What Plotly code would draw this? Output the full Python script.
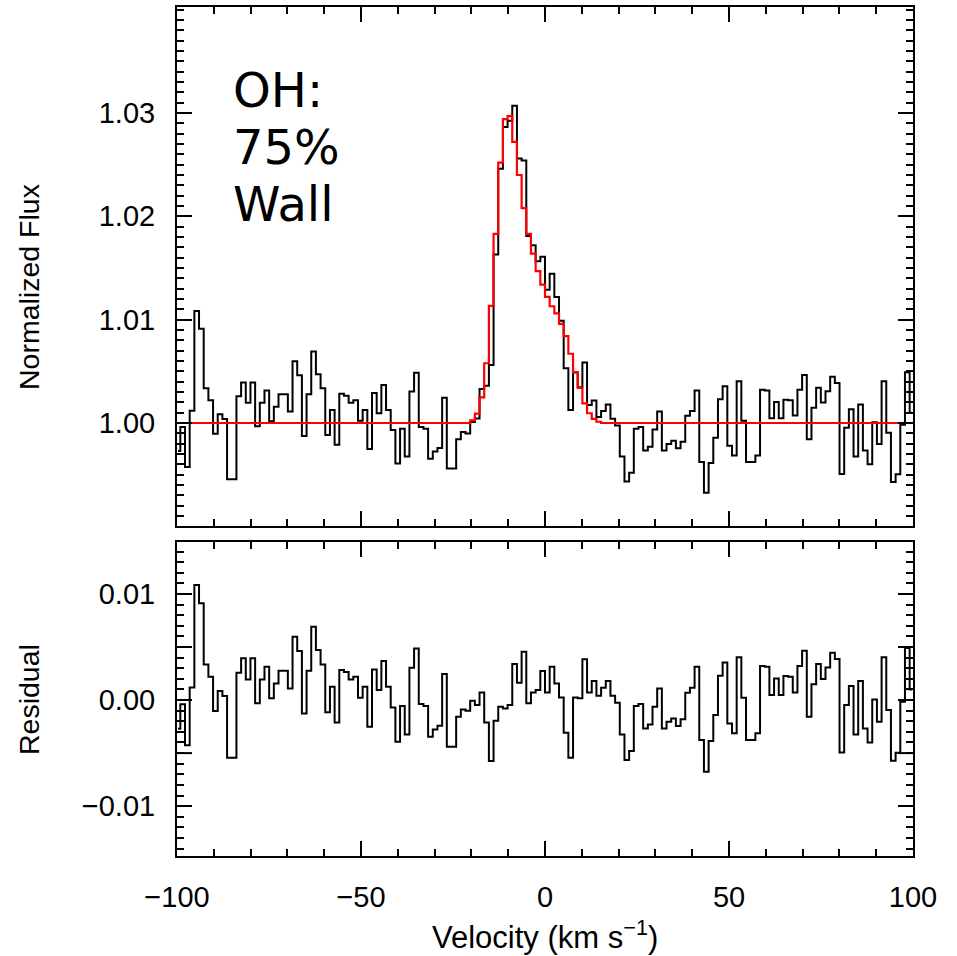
import numpy as np
import plotly.graph_objects as go

# ---- data ----
V_START = -99.73      # centre of first velocity bin (km/s)
V_STEP = 1.2704       # bin width (km/s)

flux = [
    0.99730, 0.99960, 0.99575, 1.00119, 1.01085, 1.00912, 1.00336, 1.00220, 0.99896, 1.00085,
    1.00038, 0.99456, 0.99456, 1.00258, 1.00393, 1.00195, 1.00393, 0.99969, 1.00195, 1.00314,
    1.00016, 1.00157, 1.00277, 1.00277, 1.00110, 1.00597, 1.00462, 0.99874, 1.00277, 1.00692,
    1.00472, 1.00336, 0.99884, 1.00126, 0.99789, 1.00283, 1.00264, 1.00195, 1.00220, 1.00022,
    1.00126, 0.99748, 1.00289, 1.00094, 1.00368, 1.00126, 0.99931, 0.99607, 0.99943, 0.99676,
    1.00305, 1.00487, 0.99962, 0.99943, 0.99654, 0.99723, 0.99758, 1.00245, 0.99560, 0.99560,
    0.99843, 0.99912, 0.99899, 1.00010, 1.00044, 1.00330, 1.00360, 1.00560, 1.01630, 1.02460,
    1.02865, 1.02925, 1.03070, 1.02560, 1.02540, 1.01810, 1.01720, 1.01565, 1.01610, 1.01290,
    1.01445, 1.01220, 1.00990, 1.00530, 1.00126, 1.00490, 1.00345, 1.00585, 1.00175, 1.00218,
    1.00057, 1.00116, 1.00179, 1.00041, 0.99975, 0.99676, 0.99434, 0.99519, 0.99943, 0.99962,
    0.99733, 0.99770, 0.99937, 1.00110, 0.99733, 0.99796, 0.99827, 0.99755, 0.99818, 1.00069,
    1.00116, 1.00314, 0.99623, 0.99324, 0.99613, 0.99858, 1.00230, 1.00355, 0.99780, 0.99686,
    1.00403, 1.00022, 0.99623, 0.99623, 0.99686, 1.00321, 1.00314, 1.00047, 1.00204, 1.00047,
    1.00226, 1.00220, 1.00072, 1.00321, 1.00465, 0.99843, 1.00148, 1.00340, 1.00198, 1.00308,
    1.00447, 1.00387, 0.99506, 0.99953, 1.00132, 0.99676, 1.00179, 0.99733, 0.99601, 1.00006,
    0.99796, 1.00403, 0.99906, 0.99428, 0.99503, 0.99984, 1.00490, 1.00100,
]

model = [
    1.0, 1.0, 1.0, 1.0, 1.0, 1.0, 1.0, 1.0, 1.0, 1.0,
    1.0, 1.0, 1.0, 1.0, 1.0, 1.0, 1.0, 1.0, 1.0, 1.0,
    1.0, 1.0, 1.0, 1.0, 1.0, 1.0, 1.0, 1.0, 1.0, 1.0,
    1.0, 1.0, 1.0, 1.0, 1.0, 1.0, 1.0, 1.0, 1.0, 1.0,
    1.0, 1.0, 1.0, 1.0, 1.0, 1.0, 1.0, 1.0, 1.0, 1.0,
    1.0, 1.0, 1.0, 1.0, 1.0, 1.0, 1.0, 1.0, 1.0, 1.0,
    1.0, 1.0, 1.0, 1.00025, 1.00090, 1.00248, 1.00578, 1.01133, 1.01830, 1.02520,
    1.02940, 1.02970, 1.02720, 1.02400, 1.02080, 1.01830, 1.01640, 1.01470, 1.01340, 1.01220,
    1.01130, 1.01060, 1.00960, 1.00840, 1.00670, 1.00490, 1.00340, 1.00190, 1.00094, 1.00040,
    1.00012, 1.0, 1.0, 1.0, 1.0, 1.0, 1.0, 1.0, 1.0, 1.0,
    1.0, 1.0, 1.0, 1.0, 1.0, 1.0, 1.0, 1.0, 1.0, 1.0,
    1.0, 1.0, 1.0, 1.0, 1.0, 1.0, 1.0, 1.0, 1.0, 1.0,
    1.0, 1.0, 1.0, 1.0, 1.0, 1.0, 1.0, 1.0, 1.0, 1.0,
    1.0, 1.0, 1.0, 1.0, 1.0, 1.0, 1.0, 1.0, 1.0, 1.0,
    1.0, 1.0, 1.0, 1.0, 1.0, 1.0, 1.0, 1.0, 1.0, 1.0,
    1.0, 1.0, 1.0, 1.0, 1.0, 1.0, 1.0, 1.0,
]

residual = [
    -0.00270, -0.00040, -0.00425, 0.00119, 0.01085, 0.00912, 0.00336, 0.00220, -0.00104, 0.00085,
    0.00038, -0.00544, -0.00544, 0.00258, 0.00393, 0.00195, 0.00393, -0.00031, 0.00195, 0.00314,
    0.00016, 0.00157, 0.00277, 0.00277, 0.00110, 0.00597, 0.00462, -0.00126, 0.00277, 0.00692,
    0.00472, 0.00336, -0.00116, 0.00126, -0.00211, 0.00283, 0.00264, 0.00195, 0.00220, 0.00022,
    0.00126, -0.00252, 0.00289, 0.00094, 0.00368, 0.00126, -0.00069, -0.00393, -0.00057, -0.00324,
    0.00305, 0.00487, -0.00038, -0.00057, -0.00346, -0.00277, -0.00242, 0.00245, -0.00440, -0.00440,
    -0.00157, -0.00088, -0.00101, -0.00006, -0.00047, 0.00072, -0.00211, -0.00575, -0.00195, -0.00063,
    -0.00079, -0.00047, 0.00340, 0.00164, 0.00456, -0.00031, 0.00072, 0.00094, 0.00274, 0.00072,
    0.00314, 0.00157, 0.00025, -0.00308, -0.00544, 0.00025, 0.00016, 0.00384, 0.00072, 0.00179,
    0.00041, 0.00116, 0.00179, 0.00041, -0.00025, -0.00324, -0.00566, -0.00481, -0.00057, -0.00038,
    -0.00267, -0.00230, -0.00063, 0.00110, -0.00267, -0.00204, -0.00173, -0.00245, -0.00182, 0.00069,
    0.00116, 0.00314, -0.00377, -0.00676, -0.00387, -0.00142, 0.00230, 0.00355, -0.00220, -0.00314,
    0.00403, 0.00022, -0.00377, -0.00377, -0.00314, 0.00321, 0.00314, 0.00047, 0.00204, 0.00047,
    0.00226, 0.00220, 0.00072, 0.00321, 0.00465, -0.00157, 0.00148, 0.00340, 0.00198, 0.00308,
    0.00447, 0.00387, -0.00494, -0.00047, 0.00132, -0.00324, 0.00179, -0.00267, -0.00399, 0.00006,
    -0.00204, 0.00403, -0.00094, -0.00572, -0.00497, -0.00016, 0.00490, 0.00100,
]

velocity = V_START + V_STEP * np.arange(len(flux))

x_ticks = [-100, -50, 0, 50, 100]
x_ticklabels = ["\u2212100", "\u221250", "0", "50", "100"]
flux_ticks = [1.00, 1.01, 1.02, 1.03]
resid_ticks = [-0.01, 0.0, 0.01]
resid_ticklabels = ["\u22120.01", "0.00", "0.01"]
resid_half_ticks = [-0.005, 0.005]   # unlabelled long ticks

# ---- figure ----
W, H = 957, 956
L, R, T, B = 177, 913, 7, 856
TOP_BOTTOM = 526
BOT_TOP = 542
ph = B - T
pw = R - L

TICKFONT = dict(family="Liberation Sans, Arial, sans-serif", size=29, color="black")

fig = go.Figure()
fig.add_trace(go.Scatter(x=velocity, y=flux, mode="lines", line=dict(color="black", width=2, shape="hvh"),
                         xaxis="x", yaxis="y", showlegend=False, hoverinfo="skip"))
fig.add_trace(go.Scatter(x=velocity, y=model, mode="lines", line=dict(color="#ff0000", width=2.2, shape="hvh"),
                         xaxis="x", yaxis="y", showlegend=False, hoverinfo="skip"))
fig.add_trace(go.Scatter(x=velocity, y=residual, mode="lines", line=dict(color="black", width=2, shape="hvh"),
                         xaxis="x2", yaxis="y2", showlegend=False, hoverinfo="skip"))

axis_common = dict(showline=True, linecolor="black", linewidth=2, mirror="ticks",
                   ticks="inside", tickcolor="black", tickwidth=2, ticklen=15,
                   showgrid=False, zeroline=False, tickfont=TICKFONT, automargin=False)

fig.update_layout(
    width=W, height=H,
    margin=dict(l=L, r=W - R, t=T, b=H - B, pad=0),
    paper_bgcolor="white", plot_bgcolor="white",
    xaxis=dict(axis_common, domain=[0, 1], anchor="y", range=[-100, 100],
               tickvals=x_ticks, showticklabels=False,
               minor=dict(dtick=10, tick0=0, ticks="inside", ticklen=7, tickwidth=2, tickcolor="black")),
    yaxis=dict(axis_common, domain=[(B - TOP_BOTTOM) / ph, 1], anchor="x", range=[0.99003, 1.04026],
               tickvals=flux_ticks, tickformat=".2f", ticklabelstandoff=14,
               minor=dict(dtick=0.001, tick0=1.0, ticks="inside", ticklen=7, tickwidth=2, tickcolor="black")),
    xaxis2=dict(axis_common, domain=[0, 1], anchor="y2", range=[-100, 100],
                tickvals=x_ticks, ticktext=x_ticklabels, ticklabelstandoff=14,
                minor=dict(dtick=10, tick0=0, ticks="inside", ticklen=7, tickwidth=2, tickcolor="black")),
    yaxis2=dict(axis_common, domain=[0, (B - BOT_TOP) / ph], anchor="x2", range=[-0.0147, 0.0149],
                tickvals=resid_ticks, ticktext=resid_ticklabels, ticklabelstandoff=14,
                minor=dict(dtick=0.001, tick0=0.0, ticks="inside", ticklen=7, tickwidth=2, tickcolor="black")),
)

# unlabelled long ticks at +-0.005 on both sides of the residual panel
tick_frac = 15 / pw
for yv in resid_half_ticks:
    for x0, x1 in [(0, tick_frac), (1 - tick_frac, 1)]:
        fig.add_shape(type="line", xref="x2 domain", yref="y2", x0=x0, x1=x1, y0=yv, y1=yv,
                      line=dict(color="black", width=2))

YTITLEFONT = dict(family="Liberation Sans, Arial, sans-serif", size=28.5, color="black")
XTITLEFONT = dict(family="Liberation Sans, Arial, sans-serif", size=31, color="black")
fig.add_annotation(text="Normalized Flux", xref="paper", yref="paper", x=-148 / pw, y=(B - 287) / ph,
                   textangle=-90, showarrow=False, font=YTITLEFONT, xanchor="center", yanchor="middle")
fig.add_annotation(text="Residual", xref="paper", yref="paper", x=-148 / pw, y=(B - 700) / ph,
                   textangle=-90, showarrow=False, font=YTITLEFONT, xanchor="center", yanchor="middle")
fig.add_annotation(text="Velocity (km s<sup>\u22121</sup>)", xref="paper", yref="paper", x=0.5, y=-(935 - B) / ph,
                   showarrow=False, font=XTITLEFONT, xanchor="center", yanchor="middle")

BIGFONT = dict(family="DejaVu Sans, sans-serif", size=48, color="black")
for txt, yc in [("OH:", 90), ("75%", 147), ("Wall", 204)]:
    fig.add_annotation(text=txt, xref="paper", yref="paper", x=(231 - L) / pw, y=(B - yc) / ph,
                       showarrow=False, font=BIGFONT, xanchor="left", yanchor="middle")

fig.write_html("out.html", config={"displayModeBar": False},
               post_script="document.body.style.margin='0px';document.body.style.padding='0px';")
